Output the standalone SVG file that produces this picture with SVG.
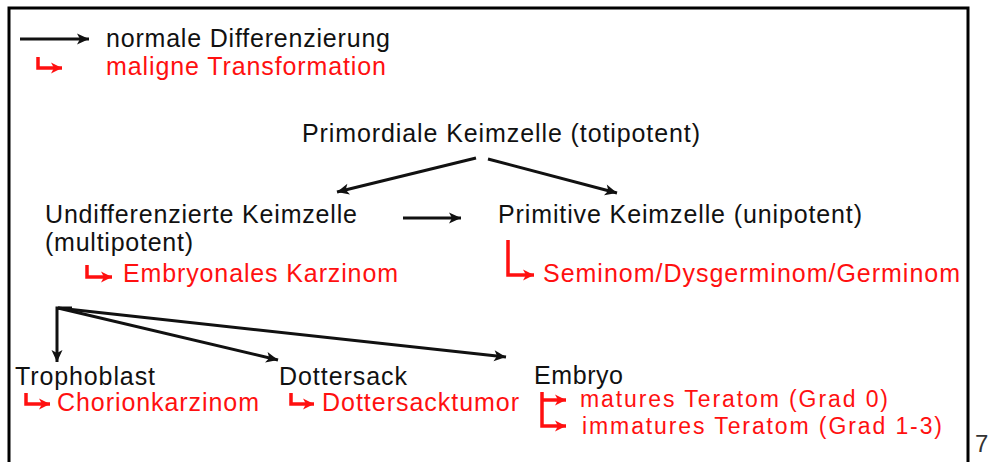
<svg xmlns="http://www.w3.org/2000/svg" width="994" height="462" viewBox="0 0 994 462">
<style>
.t{font-family:"Liberation Sans",Arial,sans-serif;font-size:25px;fill:#111}
.s{font-size:23px}
.r{fill:#ff1010}
.c{stroke:#111;stroke-width:3;fill:none}
.h{stroke:#ff1010;stroke-width:3.5;fill:none}
</style>
<defs>
<marker id="ab" markerUnits="userSpaceOnUse" markerWidth="16" markerHeight="14" refX="13" refY="7" orient="auto"><path d="M1,1.5 L13,7 L1,12.5 L4,7 z" fill="#111"/></marker>
<marker id="ar" markerUnits="userSpaceOnUse" markerWidth="16" markerHeight="14" refX="12" refY="7" orient="auto"><path d="M1,1.5 L12,7 L1,12.5 L4,7 z" fill="#ff1010"/></marker>
</defs>
<rect width="994" height="462" fill="#fff"/>
<path d="M9,462 V8 H968 V462" stroke="#000" stroke-width="3" fill="none"/>
<g id="legend">
<line class="c" x1="20" y1="39" x2="89" y2="39" marker-end="url(#ab)"/>
<path class="h" d="M38,57 V68 H62" marker-end="url(#ar)"/>
<text class="t" x="106" y="47" textLength="284">normale Differenzierung</text>
<text class="t r" x="106" y="75" textLength="280">maligne Transformation</text>
</g>
<g id="connectors">
<line class="c" x1="476" y1="158" x2="337" y2="192" marker-end="url(#ab)"/>
<line class="c" x1="488" y1="159" x2="617" y2="193" marker-end="url(#ab)"/>
<line class="c" x1="403" y1="218" x2="461" y2="218" marker-end="url(#ab)"/>
<path class="c" d="M57,361 V308 H72"/>
<line class="c" x1="57" y1="361" x2="57" y2="362" marker-end="url(#ab)"/>
<line class="c" x1="58" y1="308" x2="278" y2="360" marker-end="url(#ab)"/>
<line class="c" x1="58" y1="308" x2="506" y2="357" marker-end="url(#ab)"/>
<path class="h" d="M87,265 V277 H112" marker-end="url(#ar)"/>
<path class="h" d="M508,240 V275 H534" marker-end="url(#ar)"/>
<path class="h" d="M26,393 V404 H50" marker-end="url(#ar)"/>
<path class="h" d="M291,393 V404 H314" marker-end="url(#ar)"/>
<path class="h" d="M542,392 V426 H566" marker-end="url(#ar)"/>
<path class="h" d="M542,400 H566" marker-end="url(#ar)"/>
</g>
<g id="primordiale"><text class="t" x="302" y="142" textLength="398">Primordiale Keimzelle (totipotent)</text></g>
<g id="undifferenziert">
<text class="t" x="45" y="223" textLength="312">Undifferenzierte Keimzelle</text>
<text class="t" x="45" y="251" textLength="148">(multipotent)</text>
<text class="t r" x="123" y="282" textLength="275">Embryonales Karzinom</text>
</g>
<g id="primitiv">
<text class="t" x="498" y="223" textLength="364">Primitive Keimzelle (unipotent)</text>
<text class="t r" x="543" y="282" textLength="417">Seminom/Dysgerminom/Germinom</text>
</g>
<g id="trophoblast">
<text class="t" x="15" y="385" textLength="140">Trophoblast</text>
<text class="t r" x="57" y="411" textLength="202">Chorionkarzinom</text>
</g>
<g id="dottersack">
<text class="t" x="279" y="385" textLength="128">Dottersack</text>
<text class="t r" x="322" y="411" textLength="197">Dottersacktumor</text>
</g>
<g id="embryo">
<text class="t" x="534" y="384" textLength="89">Embryo</text>
<text class="t s r" x="580" y="407" textLength="308">matures Teratom (Grad 0)</text>
<text class="t s r" x="582" y="434" textLength="360">immatures Teratom (Grad 1-3)</text>
</g>
<text x="975" y="452" style="font-family:'Liberation Sans',Arial,sans-serif;font-size:24px;fill:#333">7</text>
</svg>
